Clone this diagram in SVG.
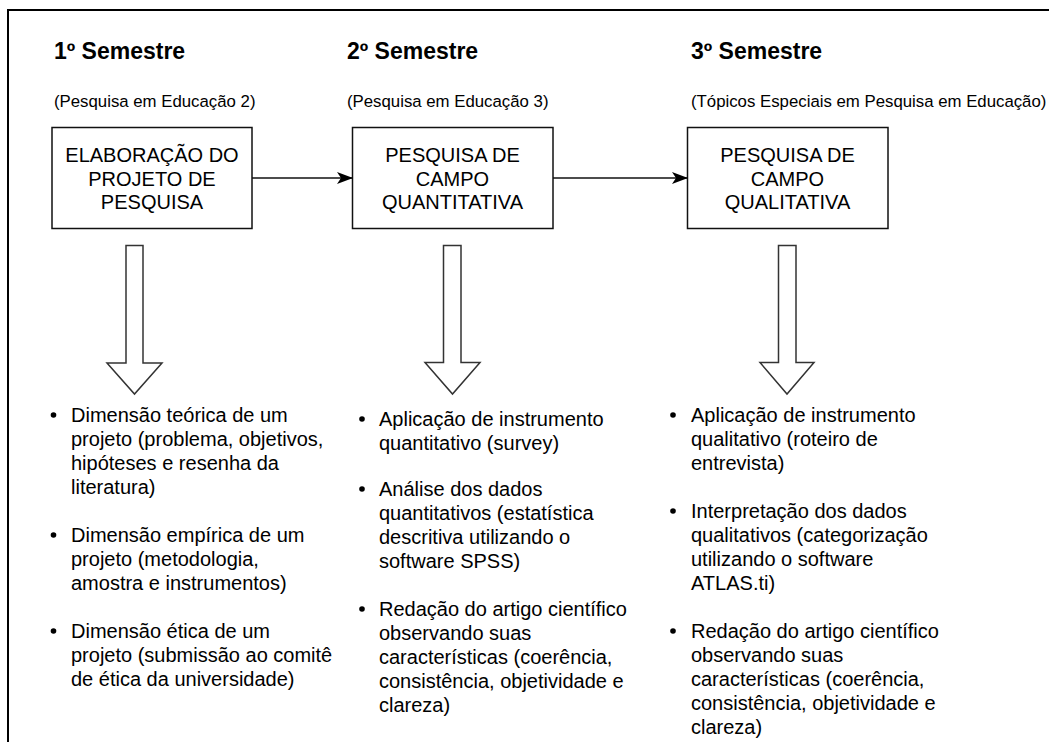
<svg xmlns="http://www.w3.org/2000/svg" width="1049" height="742" viewBox="0 0 1049 742">
<defs>
<style>
.t{font-family:"Liberation Sans",Arial,sans-serif;fill:#000}
.h{font-size:23px;font-weight:bold}
.s{font-size:16.8px}
.b{font-size:20px;text-anchor:middle}
.l{font-size:20px}
.box{fill:#fff;stroke:#111;stroke-width:1.5}
.blk{fill:#fff;stroke:#333;stroke-width:1.5;stroke-linejoin:miter}
.con{stroke:#111;stroke-width:1.5;fill:none}
.dot{fill:#000}
</style>
<marker id="ah" viewBox="0 0 16 12" refX="15" refY="6" markerWidth="16" markerHeight="12" markerUnits="userSpaceOnUse" orient="auto">
<path d="M0,0 L16,6 L0,12 L4,6 Z" fill="#000"/>
</marker>
</defs>
<rect x="0" y="0" width="1049" height="742" fill="#fff"/>
<path d="M8,742 V10 H1049" fill="none" stroke="#000" stroke-width="2"/>

<g id="col1">
<text class="t h" x="54" y="59">1º Semestre</text>
<text class="t s" x="54" y="107">(Pesquisa em Educação 2)</text>
</g>
<g id="col2">
<text class="t h" x="347" y="59">2º Semestre</text>
<text class="t s" x="347" y="107">(Pesquisa em Educação 3)</text>
</g>
<g id="col3">
<text class="t h" x="691" y="59">3º Semestre</text>
<text class="t s" x="691" y="107">(Tópicos Especiais em Pesquisa em Educação)</text>
</g>

<g id="node1">
<rect class="box" x="52" y="127.5" width="200" height="101"/>
<text class="t b" x="152" y="162">ELABORAÇÃO DO</text>
<text class="t b" x="152" y="186">PROJETO DE</text>
<text class="t b" x="152" y="209">PESQUISA</text>
</g>
<g id="node2">
<rect class="box" x="352.5" y="127.5" width="200.5" height="101"/>
<text class="t b" x="452.5" y="162">PESQUISA DE</text>
<text class="t b" x="452.5" y="186">CAMPO</text>
<text class="t b" x="452.5" y="209">QUANTITATIVA</text>
</g>
<g id="node3">
<rect class="box" x="687.5" y="127.5" width="200.5" height="101"/>
<text class="t b" x="787.5" y="162">PESQUISA DE</text>
<text class="t b" x="787.5" y="186">CAMPO</text>
<text class="t b" x="787.5" y="209">QUALITATIVA</text>
</g>

<g id="connectors">
<line class="con" x1="252" y1="178" x2="352" y2="178" marker-end="url(#ah)"/>
<line class="con" x1="553" y1="178" x2="687" y2="178" marker-end="url(#ah)"/>
<path class="blk" d="M126,245.5 H143 V363 H162 L134.5,394 L107,363 H126 Z"/>
<path class="blk" d="M443.5,245.5 H461 V362.5 H480 L452.5,394 L425,362.5 H443.5 Z"/>
<path class="blk" d="M778.5,245.5 H796 V362.5 H814 L787,394 L760,362.5 H778.5 Z"/>
</g>

<g id="list1">
<circle class="dot" cx="53.5" cy="415" r="2.8"/>
<text class="t l" x="71" y="422">Dimensão teórica de um</text>
<text class="t l" x="71" y="446">projeto (problema, objetivos,</text>
<text class="t l" x="71" y="470">hipóteses e resenha da</text>
<text class="t l" x="71" y="494">literatura)</text>
<circle class="dot" cx="53.5" cy="535" r="2.8"/>
<text class="t l" x="71" y="542">Dimensão empírica de um</text>
<text class="t l" x="71" y="566">projeto (metodologia,</text>
<text class="t l" x="71" y="590">amostra e instrumentos)</text>
<circle class="dot" cx="53.5" cy="631" r="2.8"/>
<text class="t l" x="71" y="638">Dimensão ética de um</text>
<text class="t l" x="71" y="662">projeto (submissão ao comitê</text>
<text class="t l" x="71" y="686">de ética da universidade)</text>
</g>

<g id="list2">
<circle class="dot" cx="362" cy="419" r="2.8"/>
<text class="t l" x="379" y="426">Aplicação de instrumento</text>
<text class="t l" x="379" y="450">quantitativo (survey)</text>
<circle class="dot" cx="362" cy="489" r="2.8"/>
<text class="t l" x="379" y="496">Análise dos dados</text>
<text class="t l" x="379" y="520">quantitativos (estatística</text>
<text class="t l" x="379" y="544">descritiva utilizando o</text>
<text class="t l" x="379" y="568">software SPSS)</text>
<circle class="dot" cx="362" cy="609" r="2.8"/>
<text class="t l" x="379" y="616">Redação do artigo científico</text>
<text class="t l" x="379" y="640">observando suas</text>
<text class="t l" x="379" y="664">características (coerência,</text>
<text class="t l" x="379" y="688">consistência, objetividade e</text>
<text class="t l" x="379" y="712">clareza)</text>
</g>

<g id="list3">
<circle class="dot" cx="673" cy="415" r="2.8"/>
<text class="t l" x="691" y="422">Aplicação de instrumento</text>
<text class="t l" x="691" y="446">qualitativo (roteiro de</text>
<text class="t l" x="691" y="470">entrevista)</text>
<circle class="dot" cx="673" cy="511" r="2.8"/>
<text class="t l" x="691" y="518">Interpretação dos dados</text>
<text class="t l" x="691" y="542">qualitativos (categorização</text>
<text class="t l" x="691" y="566">utilizando o software</text>
<text class="t l" x="691" y="590">ATLAS.ti)</text>
<circle class="dot" cx="673" cy="631" r="2.8"/>
<text class="t l" x="691" y="638">Redação do artigo científico</text>
<text class="t l" x="691" y="662">observando suas</text>
<text class="t l" x="691" y="686">características (coerência,</text>
<text class="t l" x="691" y="710">consistência, objetividade e</text>
<text class="t l" x="691" y="734">clareza)</text>
</g>
</svg>
